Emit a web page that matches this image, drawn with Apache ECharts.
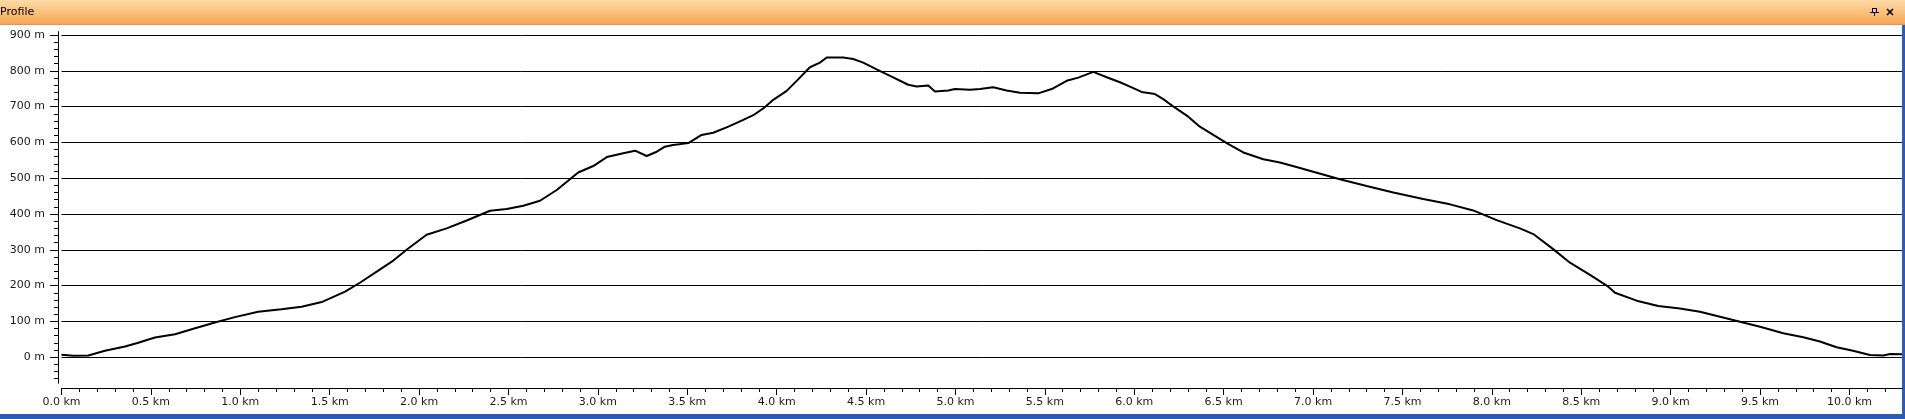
<!DOCTYPE html>
<html>
<head>
<meta charset="utf-8">
<script src="https://cdn.jsdelivr.net/npm/echarts@6.0.0/dist/echarts.min.js"></script>
<style>
html,body{margin:0;padding:0;background:#fff;}
#chart{width:1905px;height:419px;}
</style>
</head>
<body>
<div id="chart"></div>
<script>
// Distance along the route (km)
var distKm = [0.0,0.066,0.15,0.243,0.355,0.42,0.523,0.635,0.747,0.858,0.97,1.1,1.23,1.343,1.455,1.586,1.669,1.763,1.856,1.93,2.042,2.154,2.266,2.397,2.49,2.583,2.676,2.77,2.89,2.974,3.05,3.142,3.208,3.273,3.329,3.375,3.42,3.506,3.58,3.645,3.73,3.813,3.869,3.925,3.981,4.056,4.112,4.186,4.242,4.28,4.372,4.428,4.484,4.559,4.634,4.736,4.783,4.848,4.885,4.96,4.997,5.081,5.137,5.211,5.286,5.361,5.463,5.538,5.622,5.687,5.771,5.846,5.92,5.976,6.041,6.116,6.162,6.228,6.302,6.367,6.451,6.517,6.61,6.722,6.815,6.917,7.001,7.15,7.3,7.449,7.616,7.766,7.896,8.027,8.157,8.232,8.343,8.437,8.549,8.651,8.689,8.81,8.931,9.052,9.164,9.276,9.388,9.5,9.63,9.742,9.835,9.928,10.02,10.115,10.19,10.227,10.294];
// Elevation (m)
var elevM = [7,4,5,18,30,39,55,64,81,97,112,127,134,141,154,183,208,239,270,300,342,360,382,409,414,423,437,467,516,534,559,570,577,562,574,588,593,598,621,627,644,663,676,695,719,744,772,810,823,837,837,833,823,804,786,761,756,759,742,745,749,747,749,754,745,739,737,749,772,781,797,782,768,756,741,735,721,697,672,644,618,598,572,553,544,530,518,497,478,460,442,427,410,383,360,344,302,264,230,197,180,158,143,136,127,113,99,85,67,56,44,28,18,6,5,9,8];

// Axis ticks
var yMajorTicks = [0,100,200,300,400,500,600,700,800,900];
var xMajorTicks = [0.0,0.5,1.0,1.5,2.0,2.5,3.0,3.5,4.0,4.5,5.0,5.5,6.0,6.5,7.0,7.5,8.0,8.5,9.0,9.5,10.0];
var yMinorTicks = [];
for (var v = -60; v <= 900; v += 20) yMinorTicks.push(v);
var xMinorTicks = [];
for (var i = 0; i <= 102; i++) xMinorTicks.push(+(i * 0.1).toFixed(1));

var X_MIN = 0, X_MAX = 10.294, Y_MIN = -72, Y_MAX = 908.4;
var FONT = 'DejaVu Sans';

var chart = echarts.init(document.getElementById('chart'), null, {renderer: 'canvas'});
var pairs = distKm.map(function (d, k) { return [d, elevM[k]]; });

var option = {
  animation: false,
  backgroundColor: '#ffffff',
  grid: [
    {left: 61.5, right: 3, top: 32, bottom: 36},
    {left: 61.5, right: 3, top: 386, bottom: 31}
  ],
  xAxis: [
    {gridIndex: 0, type: 'value', min: X_MIN, max: X_MAX, show: false},
    {gridIndex: 1, type: 'value', min: X_MIN, max: X_MAX, position: 'bottom',
      axisLine: {show: true, onZero: false, lineStyle: {color: '#000', width: 1}},
      axisTick: {show: true, customValues: xMinorTicks, length: 4, lineStyle: {color: '#000'}},
      axisLabel: {show: false}, splitLine: {show: false}},
    {gridIndex: 1, type: 'value', min: X_MIN, max: X_MAX, position: 'bottom',
      axisLine: {show: true, onZero: false, lineStyle: {color: '#000', width: 1}},
      axisTick: {show: true, customValues: xMajorTicks, length: 7, lineStyle: {color: '#000'}},
      axisLabel: {show: true, customValues: xMajorTicks, margin: 9, color: '#1a1a1a',
        fontFamily: FONT, fontSize: 11,
        formatter: function (v) { return v.toFixed(1) + ' km'; }},
      splitLine: {show: false}}
  ],
  yAxis: [
    {gridIndex: 0, type: 'value', min: Y_MIN, max: Y_MAX, position: 'left', offset: 3.5,
      axisLine: {show: true, onZero: false, lineStyle: {color: '#000', width: 1}},
      axisTick: {show: true, customValues: yMinorTicks, length: 4, lineStyle: {color: '#000'}},
      axisLabel: {show: false}, splitLine: {show: false}},
    {gridIndex: 0, type: 'value', min: Y_MIN, max: Y_MAX, position: 'left', offset: 3.5,
      axisLine: {show: true, onZero: false, lineStyle: {color: '#000', width: 1}},
      axisTick: {show: true, customValues: yMajorTicks, length: 8, lineStyle: {color: '#000'}},
      axisLabel: {show: true, customValues: yMajorTicks, margin: 13, color: '#1a1a1a',
        fontFamily: FONT, fontSize: 11,
        formatter: function (v) { return v + ' m'; }},
      splitLine: {show: false}},
    {gridIndex: 1, type: 'value', show: false}
  ],
  series: [{
    type: 'line',
    xAxisIndex: 0,
    yAxisIndex: 0,
    data: pairs,
    showSymbol: false,
    symbol: 'none',
    smooth: false,
    lineStyle: {color: '#000', width: 2},
    z: 5,
    markLine: {
      silent: true,
      symbol: ['none', 'none'],
      label: {show: false},
      lineStyle: {color: '#000', width: 1, type: 'solid'},
      emphasis: {disabled: true},
      data: yMajorTicks.map(function (t) { return {yAxis: t}; })
    }
  }],
  graphic: [
    {type: 'rect', left: 0, top: 0, shape: {width: 1905, height: 24}, silent: true,
      style: {fill: new echarts.graphic.LinearGradient(0, 0, 0, 1, [
        {offset: 0, color: '#fedcA6'}, {offset: 1, color: '#f8a656'}])}},
    {type: 'rect', left: 0, top: 24, shape: {width: 1905, height: 1}, silent: true,
      style: {fill: '#e8954a'}},
    {type: 'text', left: 0, top: 7, silent: true,
      style: {text: 'Profile', fill: '#000', font: '11px "DejaVu Sans"'}},
    // pin icon
    {type: 'group', silent: true, children: [
      {type: 'line', shape: {x1: 1872.5, y1: 8, x2: 1872.5, y2: 12}, style: {stroke: '#000', lineWidth: 1}},
      {type: 'line', shape: {x1: 1876.5, y1: 8, x2: 1876.5, y2: 12}, style: {stroke: '#000', lineWidth: 1}},
      {type: 'line', shape: {x1: 1872, y1: 8.5, x2: 1877, y2: 8.5}, style: {stroke: '#000', lineWidth: 1}},
      {type: 'line', shape: {x1: 1870, y1: 12.5, x2: 1879, y2: 12.5}, style: {stroke: '#000', lineWidth: 1}},
      {type: 'line', shape: {x1: 1874.5, y1: 12.5, x2: 1874.5, y2: 16}, style: {stroke: '#000', lineWidth: 1}}
    ]},
    // close icon
    {type: 'line', silent: true, shape: {x1: 1887, y1: 9, x2: 1893, y2: 15}, style: {stroke: '#000', lineWidth: 1.6}},
    {type: 'line', silent: true, shape: {x1: 1893, y1: 9, x2: 1887, y2: 15}, style: {stroke: '#000', lineWidth: 1.6}},
    // window borders
    {type: 'rect', silent: true, left: 1902, top: 25, shape: {width: 3, height: 394}, style: {fill: '#2c5cb8'}},
    {type: 'rect', silent: true, left: 0, top: 414, shape: {width: 1905, height: 5}, style: {fill: '#2c5cb8'}}
  ]
};
chart.setOption(option);
</script>
</body>
</html>
